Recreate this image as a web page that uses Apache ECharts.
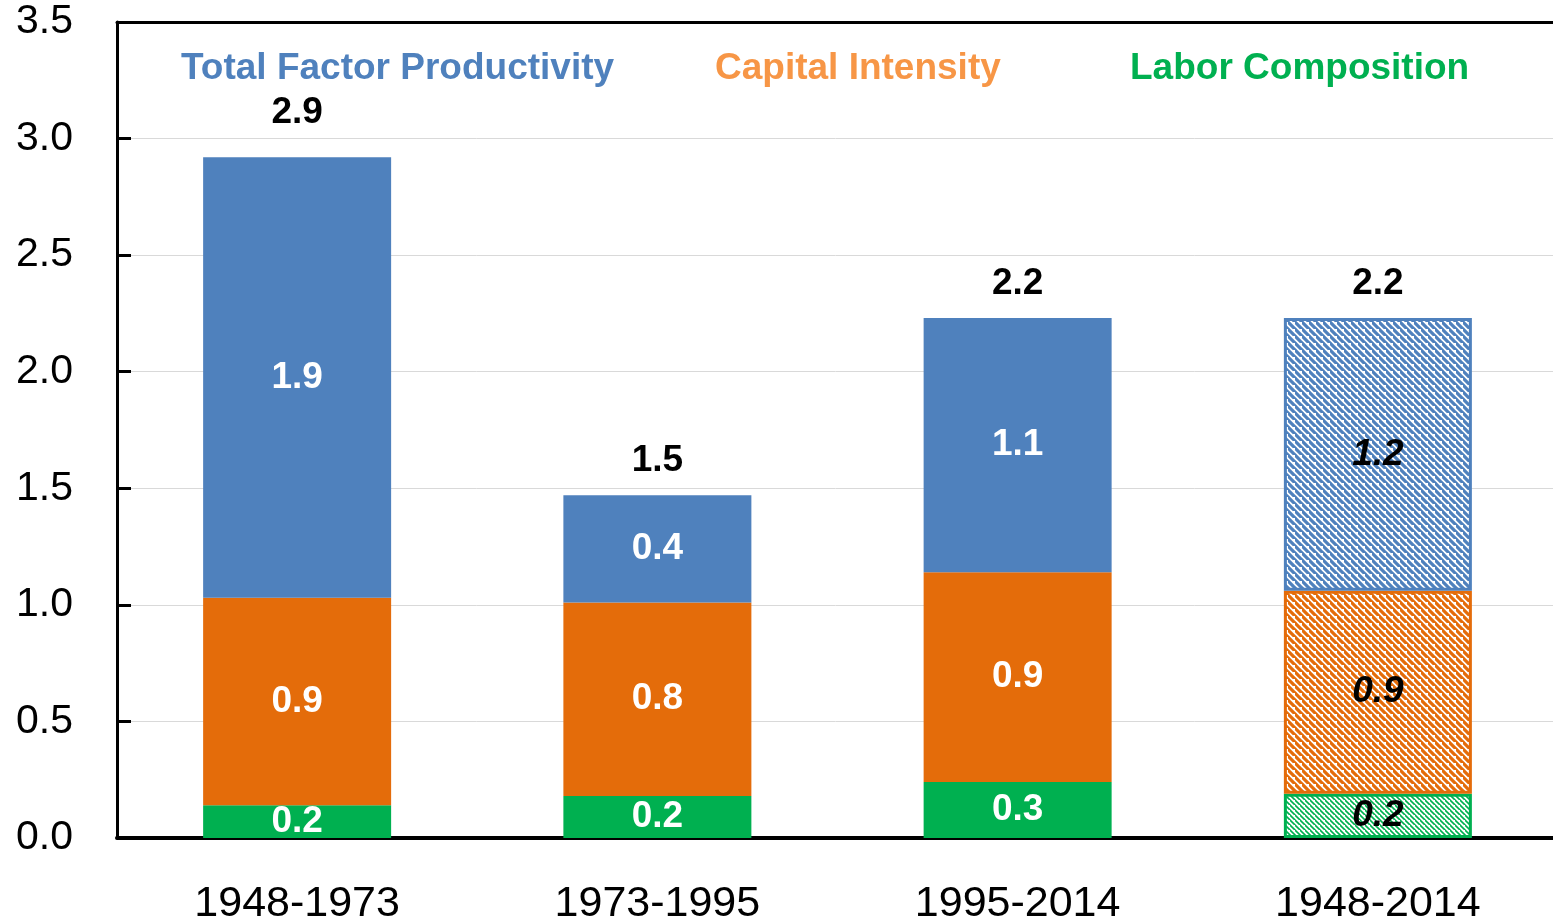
<!DOCTYPE html>
<html>
<head>
<meta charset="utf-8">
<script src="https://cdn.jsdelivr.net/npm/echarts@6/dist/echarts.min.js"></script>
<style>
  html, body { margin: 0; padding: 0; background: #fff; }
  #chart { width: 1553px; height: 919px; }
</style>
</head>
<body>
<div id="chart"></div>
<script>
// periods on the x axis
const periods = ['1948-1973', '1973-1995', '1995-2014', '1948-2014']

// contributions
const laborComp = [0.14, 0.18, 0.24, 0.19]
const capIntensity = [0.89, 0.83, 0.90, 0.87]
const tfp = [1.89, 0.46, 1.09, 1.17]

// labels as printed on the chart
const laborLabels = ['0.2', '0.2', '0.3', '0.2']
const capLabels = ['0.9', '0.8', '0.9', '0.9']
const tfpLabels = ['1.9', '0.4', '1.1', '1.2']
const totalLabels = ['2.9', '1.5', '2.2', '2.2']

const yTicks = [0, 0.5, 1.0, 1.5, 2.0, 2.5, 3.0, 3.5]

const BLUE = '#4F81BD'
const ORANGE = '#E46C0A'
const GREEN = '#00B050'
const FONT = '"Liberation Sans", Arial, sans-serif'

// diagonal hatch for the last (whole-period) bar
const makeHatch = (color, size, width) => {
  const c = document.createElement('canvas')
  c.width = size
  c.height = size
  const ctx = c.getContext('2d')
  ctx.fillStyle = '#fff'
  ctx.fillRect(0, 0, size, size)
  ctx.strokeStyle = color
  ctx.lineWidth = width
  ctx.beginPath()
  ctx.moveTo(-1, -1); ctx.lineTo(size + 1, size + 1)
  ctx.moveTo(-size - 1, -1); ctx.lineTo(1, size + 1)
  ctx.moveTo(size - 1, -size - 1); ctx.lineTo(2 * size + 1, size + 1)
  ctx.stroke()
  return { image: c, repeat: 'repeat' }
}

const buildData = (values, color, hatch) => values.map((v, i) => {
  if (i < values.length - 1) return v
  return {
    value: v,
    itemStyle: { color: hatch, borderColor: color, borderWidth: 3 },
    label: { color: '#000', fontStyle: 'italic' }
  }
})

const segLabel = (labels) => ({
  show: true,
  position: 'inside',
  color: '#fff',
  fontWeight: 'bold',
  fontSize: 37,
  fontFamily: FONT,
  formatter: (p) => labels[p.dataIndex]
})

const chart = echarts.init(document.getElementById('chart'))

const option = {
  animation: false,
  grid: { left: 117, right: -5, top: 22, bottom: 81, outerBoundsMode: 'none', containLabel: false },
  legend: [
    { data: [{ name: 'Total Factor Productivity', textStyle: { color: BLUE } }], left: 171, top: 45 },
    { data: [{ name: 'Capital Intensity', textStyle: { color: '#F79646' } }], left: 705, top: 45 },
    { data: [{ name: 'Labor Composition', textStyle: { color: GREEN } }], left: 1120, top: 45 }
  ].map(l => Object.assign(l, {
    icon: 'none',
    itemWidth: 0,
    itemHeight: 0,
    selectedMode: false,
    textStyle: Object.assign({ fontSize: 37, fontWeight: 'bold', fontFamily: FONT }, l.data[0].textStyle)
  })),
  xAxis: [
    {
      type: 'category',
      data: periods,
      axisLine: { lineStyle: { color: '#000', width: 4 } },
      axisTick: { show: false },
      axisLabel: { color: '#000', fontSize: 43, fontFamily: FONT, margin: 45 }
    },
    {
      type: 'category',
      position: 'top',
      data: periods,
      axisLine: { lineStyle: { color: '#000', width: 3 } },
      axisTick: { show: false },
      axisLabel: { show: false }
    }
  ],
  yAxis: {
    type: 'value',
    min: 0,
    max: 3.5,
    interval: 0.5,
    axisLine: { show: true, lineStyle: { color: '#000', width: 3 } },
    axisTick: { show: true, inside: true, length: 14, lineStyle: { color: '#000', width: 3 } },
    axisLabel: {
      color: '#000', fontSize: 41, fontFamily: FONT, margin: 44,
      formatter: (v) => yTicks.includes(v) ? v.toFixed(1) : ''
    },
    splitLine: { lineStyle: { color: '#D9D9D9', width: 1 } }
  },
  series: [
    {
      name: 'Labor Composition',
      type: 'bar',
      stack: 'total',
      barWidth: 188,
      itemStyle: { color: GREEN },
      label: segLabel(laborLabels),
      data: buildData(laborComp, GREEN, makeHatch(GREEN, 5, 1.6))
    },
    {
      name: 'Capital Intensity',
      type: 'bar',
      stack: 'total',
      itemStyle: { color: ORANGE },
      label: segLabel(capLabels),
      data: buildData(capIntensity, ORANGE, makeHatch(ORANGE, 7, 3.2))
    },
    {
      name: 'Total Factor Productivity',
      type: 'bar',
      stack: 'total',
      itemStyle: { color: BLUE },
      label: segLabel(tfpLabels),
      data: buildData(tfp, BLUE, makeHatch(BLUE, 7, 3.2))
    },
    {
      // totals above each stack
      name: 'Total',
      type: 'bar',
      stack: 'total',
      itemStyle: { color: 'transparent' },
      data: tfp.map((_, i) => i === 0 ? { value: 0, label: { distance: 26 } } : 0),
      label: {
        show: true,
        position: 'top',
        distance: 16,
        color: '#000',
        fontWeight: 'bold',
        fontSize: 37,
        fontFamily: FONT,
        formatter: (p) => totalLabels[p.dataIndex]
      }
    }
  ]
}

chart.setOption(option)
</script>
</body>
</html>
